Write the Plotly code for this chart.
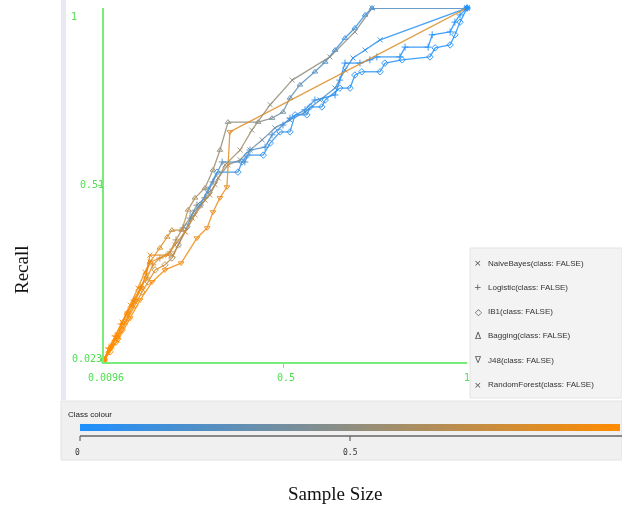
import numpy as np
import plotly.graph_objects as go
from plotly.colors import sample_colorscale

W, H = 622, 507

# ---------------- data ----------------
series_names = ["NaiveBayes", "Logistic", "IB1", "Bagging", "J48", "RandomForest"]
legend_labels = [n + "(class: FALSE)" for n in series_names]

x_ticks = [0.0096, 0.5, 1]
x_tick_labels = ["0.0096", "0.5", "1"]
y_ticks = [0.023, 0.51, 1]
y_tick_labels = ["0.023", "0.51", "1"]

nb_x = [0.010, 0.031, 0.048, 0.067, 0.089, 0.108, 0.124, 0.135, 0.198, 0.212, 0.231, 0.250, 0.272, 0.299,
        0.321, 0.348, 0.381, 0.408, 0.441, 0.476, 0.517, 0.558, 0.599, 0.640, 0.667, 0.689, 0.722, 0.763, 1.000]
nb_y = [0.029, 0.067, 0.098, 0.133, 0.180, 0.222, 0.263, 0.318, 0.318, 0.346, 0.382, 0.420, 0.456, 0.484,
        0.531, 0.567, 0.581, 0.608, 0.636, 0.669, 0.691, 0.713, 0.746, 0.779, 0.829, 0.862, 0.884, 0.912, 1.000]
nb_t = [1, 1, .98, .97, .95, .93, .92, .9, .88, .85, .8, .75, .7, .6, .55, .5, .45, .4, .35, .3, .28, .25,
        .22, .2, .15, .1, .08, .05, 0]

lg_x = [0.010, 0.023, 0.040, 0.056, 0.075, 0.091, 0.110, 0.127, 0.143, 0.162, 0.190, 0.206, 0.225, 0.244,
        0.263, 0.285, 0.307, 0.332, 0.394, 0.408, 0.449, 0.468, 0.498, 0.517, 0.558, 0.585, 0.640, 0.653,
        0.667, 0.708, 0.735, 0.754, 0.817, 0.831, 0.894, 0.905, 0.954, 0.967, 0.981, 1.000]
lg_y = [0.029, 0.062, 0.095, 0.128, 0.161, 0.194, 0.230, 0.255, 0.291, 0.310, 0.327, 0.360, 0.393, 0.420,
        0.456, 0.476, 0.520, 0.575, 0.575, 0.608, 0.616, 0.650, 0.677, 0.696, 0.719, 0.746, 0.760, 0.801,
        0.848, 0.848, 0.857, 0.865, 0.865, 0.892, 0.892, 0.926, 0.934, 0.961, 0.981, 1.000]
lg_t = [1, 1, .98, .96, .94, .92, .9, .85, .8, .75, .7, .62, .55, .48, .42, .36, .3, .25, .22, .2, .18, .15,
        .12, .1, .1, .08, .08, .06, .05, .05, .04, .04, .03, .03, .02, .02, .01, .01, 0, 0]

ib_x = [0.010, 0.026, 0.042, 0.059, 0.075, 0.094, 0.113, 0.130, 0.149, 0.176, 0.195, 0.212, 0.236, 0.252,
        0.272, 0.293, 0.318, 0.375, 0.386, 0.400, 0.444, 0.463, 0.490, 0.517, 0.531, 0.563, 0.572, 0.604,
        0.613, 0.653, 0.681, 0.694, 0.713, 0.763, 0.776, 0.823, 0.899, 0.913, 0.954, 0.967, 0.981, 1.000]
ib_y = [0.029, 0.051, 0.078, 0.111, 0.144, 0.180, 0.216, 0.244, 0.277, 0.291, 0.310, 0.346, 0.396, 0.434,
        0.456, 0.498, 0.547, 0.547, 0.575, 0.594, 0.594, 0.627, 0.658, 0.658, 0.705, 0.705, 0.727, 0.727,
        0.746, 0.779, 0.779, 0.815, 0.824, 0.824, 0.848, 0.857, 0.865, 0.890, 0.898, 0.926, 0.961, 1.000]
ib_t = [1, 1, .97, .95, .92, .9, .87, .84, .8, .72, .6, .45, .3, .22, .18, .15, .12, .1, .1, .09, .08, .08,
        .07, .07, .06, .06, .05, .05, .05, .04, .04, .03, .03, .03, .02, .02, .02, .01, .01, .01, 0, 0]

bg_x = [0.010, 0.026, 0.045, 0.072, 0.094, 0.113, 0.135, 0.162, 0.182, 0.195, 0.222, 0.239, 0.258, 0.285,
        0.307, 0.326, 0.348, 0.430, 0.468, 0.498, 0.517, 0.544, 0.585, 0.613, 0.640, 0.667, 0.694, 0.722,
        0.741, 1.000]
bg_y = [0.029, 0.062, 0.092, 0.158, 0.194, 0.230, 0.299, 0.338, 0.368, 0.387, 0.387, 0.443, 0.476, 0.503,
        0.553, 0.608, 0.685, 0.685, 0.696, 0.713, 0.752, 0.788, 0.824, 0.851, 0.884, 0.917, 0.945, 0.981,
        1.000, 1.000]
bg_t = [1, 1, 1, .98, .96, .94, .9, .85, .8, .75, .7, .65, .6, .58, .55, .52, .5, .45, .4, .35, .3, .28,
        .25, .2, .15, .12, .1, .08, .05, 0]

j48_x = [0.010, 0.048, 0.081, 0.108, 0.141, 0.176, 0.220, 0.263, 0.291, 0.307, 0.326, 0.345, 0.353, 1.000]
j48_y = [0.029, 0.084, 0.144, 0.194, 0.244, 0.277, 0.296, 0.365, 0.393, 0.437, 0.476, 0.506, 0.658, 1.000]
j48_t = [1, 1, 1, .98, .96, .95, .94, .93, .92, .9, .88, .87, .85, 0]

rf_x = [0.010, 0.021, 0.040, 0.059, 0.081, 0.102, 0.121, 0.135, 0.184, 0.203, 0.231, 0.258, 0.285, 0.313,
        0.340, 0.381, 0.413, 0.463, 0.523, 0.626, 0.694, 0.741, 1.000]
rf_y = [0.029, 0.056, 0.089, 0.133, 0.180, 0.227, 0.271, 0.299, 0.318, 0.346, 0.382, 0.429, 0.470, 0.512,
        0.567, 0.608, 0.663, 0.733, 0.801, 0.865, 0.934, 1.000, 1.000]
rf_t = [1, 1, 1, .98, .96, .95, .93, .9, .85, .8, .75, .7, .65, .62, .6, .58, .55, .52, .5, .48, .45, .3, 0]

key_ticks = [0, 0.5]
key_tick_labels = ["0", "0.5"]

# ---------------- styling ----------------
CS = [[0, "rgb(30,144,255)"], [1, "rgb(255,140,0)"]]
GREEN_LINE = "#78ee78"
GREEN_TEXT = "#4fe04f"
symbols = ["x-thin-open", "cross-thin-open", "diamond-open", "triangle-up-open", "triangle-down-open", "x-thin-open"]
legend_glyphs = ["×", "+", "◇", "Δ", "∇", "×"]

series = [
    (nb_x, nb_y, nb_t), (lg_x, lg_y, lg_t), (ib_x, ib_y, ib_t),
    (bg_x, bg_y, bg_t), (j48_x, j48_y, j48_t), (rf_x, rf_y, rf_t),
]


def PX(x):
    return x / W


def PY(y):
    return 1 - y / H


fig = go.Figure()

for (xs, ys, ts), sym in zip(series, symbols):
    cols = sample_colorscale(CS, ts)
    for i in range(len(xs) - 1):
        fig.add_trace(go.Scatter(
            x=[xs[i], xs[i + 1]], y=[ys[i], ys[i + 1]], mode="lines",
            line=dict(color=cols[i], width=1.3), opacity=0.85,
            showlegend=False, hoverinfo="skip", cliponaxis=False))
    fig.add_trace(go.Scatter(
        x=xs, y=ys, mode="markers",
        marker=dict(symbol=sym, size=5, color=cols, line=dict(color=cols, width=1)),
        opacity=0.9, showlegend=False, cliponaxis=False))

# colour key gradient
key_vals = np.linspace(0, 1, 300)
fig.add_trace(go.Heatmap(
    x=key_vals, y=[0], z=[key_vals], colorscale=CS, zmin=0, zmax=1,
    showscale=False, xaxis="x3", yaxis="y3", hoverinfo="skip"))

shapes = [
    # left strip
    dict(type="rect", xref="paper", yref="paper", x0=PX(61), x1=PX(66), y0=PY(400), y1=PY(0),
         fillcolor="#e6e9ef", line=dict(width=0), layer="below"),
    # bottom panel
    dict(type="rect", xref="paper", yref="paper", x0=PX(61), x1=PX(622), y0=PY(460), y1=PY(401),
         fillcolor="#f0f0f0", line=dict(color="#e2e2e2", width=1), layer="below"),
    # legend box
    dict(type="rect", xref="paper", yref="paper", x0=PX(470), x1=PX(622), y0=PY(398), y1=PY(248),
         fillcolor="#f3f3f3", line=dict(color="#e4e4e4", width=1), layer="below"),
    # key axis line
    dict(type="line", xref="paper", yref="paper", x0=PX(80), x1=PX(622), y0=PY(436), y1=PY(436),
         line=dict(color="#666666", width=1.5)),
]
for kx in (80, 350):
    shapes.append(dict(type="line", xref="paper", yref="paper", x0=PX(kx), x1=PX(kx), y0=PY(436), y1=PY(441),
                       line=dict(color="#666666", width=1.2)))

annotations = []
mono = dict(family="DejaVu Sans Mono", size=10, color=GREEN_TEXT)
# y tick labels
for (yx, yy), lab in zip([(70, 358), (78, 184), (69, 16)], y_tick_labels):
    annotations.append(dict(xref="paper", yref="paper", x=PX(yx), y=PY(yy), text=lab, showarrow=False,
                            xanchor="left", yanchor="middle", font=mono))
# x tick labels
for (xx, xy), lab in zip([(106, 377), (286, 377), (467, 377)], x_tick_labels):
    annotations.append(dict(xref="paper", yref="paper", x=PX(xx), y=PY(xy), text=lab, showarrow=False,
                            xanchor="center", yanchor="middle", font=mono))
# legend
for i, (g, lab) in enumerate(zip(legend_glyphs, legend_labels)):
    yy = 263 + 24.3 * i
    annotations.append(dict(xref="paper", yref="paper", x=PX(478), y=PY(yy), text=g, showarrow=False,
                            xanchor="center", yanchor="middle",
                            font=dict(family="DejaVu Sans", size=9, color="#555555")))
    annotations.append(dict(xref="paper", yref="paper", x=PX(486), y=PY(yy), text=lab, showarrow=False,
                            xanchor="left", yanchor="middle",
                            font=dict(family="Liberation Sans", size=8, color="#333333")))
# colour key
annotations.append(dict(xref="paper", yref="paper", x=PX(66), y=PY(414), text="Class colour", showarrow=False,
                        xanchor="left", yanchor="middle",
                        font=dict(family="Liberation Sans", size=8, color="#222222")))
for kx, lab in zip((77, 350), key_tick_labels):
    annotations.append(dict(xref="paper", yref="paper", x=PX(kx), y=PY(452), text=lab, showarrow=False,
                            xanchor="center", yanchor="middle",
                            font=dict(family="DejaVu Sans Mono", size=8, color="#333333")))
# outer axis titles
annotations.append(dict(xref="paper", yref="paper", x=PX(21), y=PY(270), text="Recall", showarrow=False,
                        textangle=-90, xanchor="center", yanchor="middle",
                        font=dict(family="Liberation Serif", size=19, color="#111111")))
annotations.append(dict(xref="paper", yref="paper", x=PX(335), y=PY(493), text="Sample Size", showarrow=False,
                        xanchor="center", yanchor="middle",
                        font=dict(family="Liberation Serif", size=19, color="#111111")))

fig.update_layout(
    width=W, height=H, margin=dict(l=0, r=0, t=0, b=0),
    paper_bgcolor="white", plot_bgcolor="rgba(0,0,0,0)", showlegend=False,
    xaxis=dict(domain=[PX(104), PX(467)], range=[x_ticks[0], x_ticks[-1]], showline=True,
               linecolor=GREEN_LINE, linewidth=2, showgrid=False, zeroline=False,
               tickvals=[x_ticks[1]], ticks="outside", ticklen=4, tickcolor=GREEN_LINE, tickwidth=1,
               showticklabels=False, fixedrange=True),
    yaxis=dict(domain=[PY(362), PY(8)], range=[y_ticks[0], y_ticks[-1]], showline=True,
               linecolor=GREEN_LINE, linewidth=2, showgrid=False, zeroline=False,
               tickvals=[y_ticks[1]], ticks="outside", ticklen=4, tickcolor=GREEN_LINE, tickwidth=1,
               showticklabels=False, fixedrange=True),
    xaxis3=dict(domain=[PX(80), PX(620)], range=[0, 1], visible=False, anchor="y3", fixedrange=True),
    yaxis3=dict(domain=[PY(431), PY(424)], range=[-0.5, 0.5], visible=False, anchor="x3", fixedrange=True),
    shapes=shapes, annotations=annotations,
)

fig.write_html("out.html", config={"displayModeBar": False},
               post_script="document.body.style.margin='0px';document.body.style.overflow='hidden';")
